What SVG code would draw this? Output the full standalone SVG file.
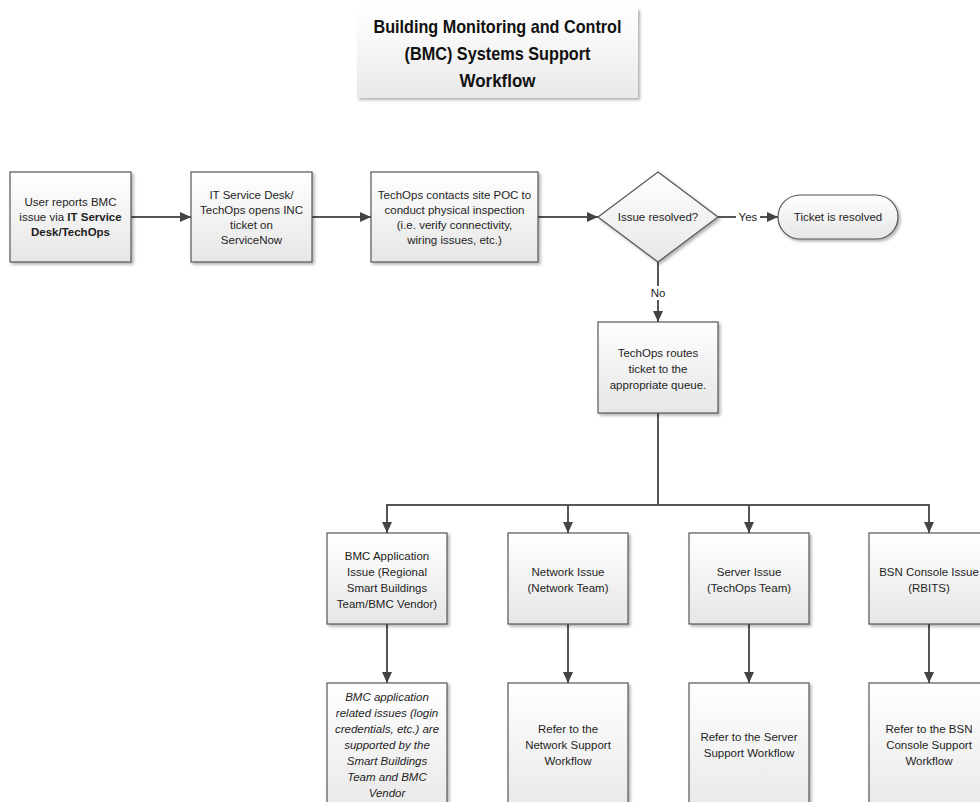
<svg xmlns="http://www.w3.org/2000/svg" width="980" height="802" viewBox="0 0 980 802">
  <defs>
    <linearGradient id="boxFill" x1="0" y1="0" x2="0" y2="1">
      <stop offset="0" stop-color="#ffffff"/>
      <stop offset="1" stop-color="#e6e6e6"/>
    </linearGradient>
    <linearGradient id="titleFill" x1="0" y1="0" x2="0" y2="1">
      <stop offset="0" stop-color="#ffffff"/>
      <stop offset="1" stop-color="#e9e9e9"/>
    </linearGradient>
    <filter id="shadow" x="-10%" y="-10%" width="130%" height="130%">
      <feDropShadow dx="2" dy="2" stdDeviation="1.5" flood-color="#000" flood-opacity="0.3"/>
    </filter>
    <marker id="arrow" markerUnits="userSpaceOnUse" markerWidth="12" markerHeight="12" viewBox="0 0 12 12" refX="11" refY="6" orient="auto">
      <path d="M0,1 L11,6 L0,11 Z" fill="#444"/>
    </marker>
  </defs>
  <style>
    .box { fill: url(#boxFill); stroke: #555; stroke-width: 1.2; filter: url(#shadow); }
    .t { font-family: "Liberation Sans", Arial, sans-serif; font-size: 11.5px; fill: #1e1e1e; text-anchor: middle; }
    .b { font-weight: bold; }
    .i { font-style: italic; }
    .title { font-family: "Liberation Sans", Arial, sans-serif; font-size: 19px; font-weight: bold; fill: #111; text-anchor: middle; }
    .conn { fill: none; stroke: #555; stroke-width: 2; }
    .lbl { font-family: "Liberation Sans", Arial, sans-serif; font-size: 11.5px; fill: #1e1e1e; text-anchor: middle; }
  </style>

  <!-- heading -->
  <g id="title">
    <rect x="357" y="8" width="281" height="90" fill="url(#titleFill)" filter="url(#shadow)"/>
    <text class="title" x="497.5" y="33" textLength="248" lengthAdjust="spacingAndGlyphs">Building Monitoring and Control</text>
    <text class="title" x="497.5" y="60" textLength="186" lengthAdjust="spacingAndGlyphs">(BMC) Systems Support</text>
    <text class="title" x="497.5" y="87" textLength="76" lengthAdjust="spacingAndGlyphs">Workflow</text>
  </g>

  <!-- connectors -->
  <g id="connectors">
    <line class="conn" x1="131" y1="217" x2="191" y2="217" marker-end="url(#arrow)"/>
    <line class="conn" x1="312" y1="217" x2="371" y2="217" marker-end="url(#arrow)"/>
    <line class="conn" x1="538" y1="217" x2="598" y2="217" marker-end="url(#arrow)"/>
    <line class="conn" x1="718" y1="217" x2="778" y2="217" marker-end="url(#arrow)"/>
    <rect x="736" y="210" width="24" height="14" fill="#fff"/>
    <text class="lbl" x="748" y="221">Yes</text>
    <line class="conn" x1="658" y1="262" x2="658" y2="322" marker-end="url(#arrow)"/>
    <rect x="649" y="286" width="18" height="14" fill="#fff"/>
    <text class="lbl" x="658" y="297">No</text>
    <line class="conn" x1="658" y1="413" x2="658" y2="505"/>
    <line class="conn" x1="387" y1="505" x2="929" y2="505"/>
    <line class="conn" x1="387" y1="504" x2="387" y2="533" marker-end="url(#arrow)"/>
    <line class="conn" x1="568" y1="505" x2="568" y2="533" marker-end="url(#arrow)"/>
    <line class="conn" x1="749" y1="505" x2="749" y2="533" marker-end="url(#arrow)"/>
    <line class="conn" x1="929" y1="504" x2="929" y2="533" marker-end="url(#arrow)"/>
    <line class="conn" x1="387" y1="624" x2="387" y2="683" marker-end="url(#arrow)"/>
    <line class="conn" x1="568" y1="624" x2="568" y2="683" marker-end="url(#arrow)"/>
    <line class="conn" x1="749" y1="624" x2="749" y2="683" marker-end="url(#arrow)"/>
    <line class="conn" x1="929" y1="624" x2="929" y2="683" marker-end="url(#arrow)"/>
  </g>

  <!-- first row -->
  <g id="user-report">
    <rect class="box" x="10" y="172" width="121" height="90"/>
    <text class="t" x="70.5" y="206">User reports BMC</text>
    <text class="t" x="70.5" y="221">issue via <tspan class="b">IT Service</tspan></text>
    <text class="t b" x="70.5" y="236">Desk/TechOps</text>
  </g>
  <g id="open-ticket">
    <rect class="box" x="191" y="172" width="121" height="90"/>
    <text class="t" x="251.5" y="198.5">IT Service Desk/</text>
    <text class="t" x="251.5" y="213.5">TechOps opens INC</text>
    <text class="t" x="251.5" y="228.5">ticket on</text>
    <text class="t" x="251.5" y="243.5">ServiceNow</text>
  </g>
  <g id="site-inspection">
    <rect class="box" x="371" y="172" width="167" height="90"/>
    <text class="t" x="454.5" y="198.5">TechOps contacts site POC to</text>
    <text class="t" x="454.5" y="213.5">conduct physical inspection</text>
    <text class="t" x="454.5" y="228.5">(i.e. verify connectivity,</text>
    <text class="t" x="454.5" y="243.5">wiring issues, etc.)</text>
  </g>
  <g id="resolved-check">
    <polygon points="658,172 718,217 658,262 598,217" fill="url(#boxFill)" stroke="#555" stroke-width="1.2" filter="url(#shadow)"/>
    <text class="t" x="658" y="221">Issue resolved?</text>
  </g>
  <g id="ticket-resolved">
    <rect class="box" x="778" y="195" width="120" height="44" rx="22" ry="22"/>
    <text class="t" x="838" y="221">Ticket is resolved</text>
  </g>

  <!-- routing -->
  <g id="route-ticket">
    <rect class="box" x="598" y="322" width="120" height="91"/>
    <text class="t" x="658" y="357">TechOps routes</text>
    <text class="t" x="658" y="373">ticket to the</text>
    <text class="t" x="658" y="389">appropriate queue.</text>
  </g>

  <!-- issue categories -->
  <g id="bmc-app-issue">
    <rect class="box" x="327" y="533" width="120" height="91"/>
    <text class="t" x="387" y="560">BMC Application</text>
    <text class="t" x="387" y="576">Issue (Regional</text>
    <text class="t" x="387" y="592">Smart Buildings</text>
    <text class="t" x="387" y="608">Team/BMC Vendor)</text>
  </g>
  <g id="network-issue">
    <rect class="box" x="508" y="533" width="120" height="91"/>
    <text class="t" x="568" y="576">Network Issue</text>
    <text class="t" x="568" y="592">(Network Team)</text>
  </g>
  <g id="server-issue">
    <rect class="box" x="689" y="533" width="120" height="91"/>
    <text class="t" x="749" y="576">Server Issue</text>
    <text class="t" x="749" y="592">(TechOps Team)</text>
  </g>
  <g id="bsn-console-issue">
    <rect class="box" x="869" y="533" width="120" height="91"/>
    <text class="t" x="929" y="576">BSN Console Issue</text>
    <text class="t" x="929" y="592">(RBITS)</text>
  </g>

  <!-- outcomes -->
  <g id="bmc-app-support">
    <rect class="box" x="327" y="683" width="120" height="140"/>
    <text class="t i" x="387" y="701">BMC application</text>
    <text class="t i" x="387" y="717">related issues (login</text>
    <text class="t i" x="387" y="733">credentials, etc.) are</text>
    <text class="t i" x="387" y="749">supported by the</text>
    <text class="t i" x="387" y="765">Smart Buildings</text>
    <text class="t i" x="387" y="781">Team and BMC</text>
    <text class="t i" x="387" y="797">Vendor</text>
  </g>
  <g id="network-workflow">
    <rect class="box" x="508" y="683" width="120" height="140"/>
    <text class="t" x="568" y="733">Refer to the</text>
    <text class="t" x="568" y="749">Network Support</text>
    <text class="t" x="568" y="765">Workflow</text>
  </g>
  <g id="server-workflow">
    <rect class="box" x="689" y="683" width="120" height="140"/>
    <text class="t" x="749" y="741">Refer to the Server</text>
    <text class="t" x="749" y="757">Support Workflow</text>
  </g>
  <g id="bsn-console-workflow">
    <rect class="box" x="869" y="683" width="120" height="140"/>
    <text class="t" x="929" y="733">Refer to the BSN</text>
    <text class="t" x="929" y="749">Console Support</text>
    <text class="t" x="929" y="765">Workflow</text>
  </g>
</svg>
